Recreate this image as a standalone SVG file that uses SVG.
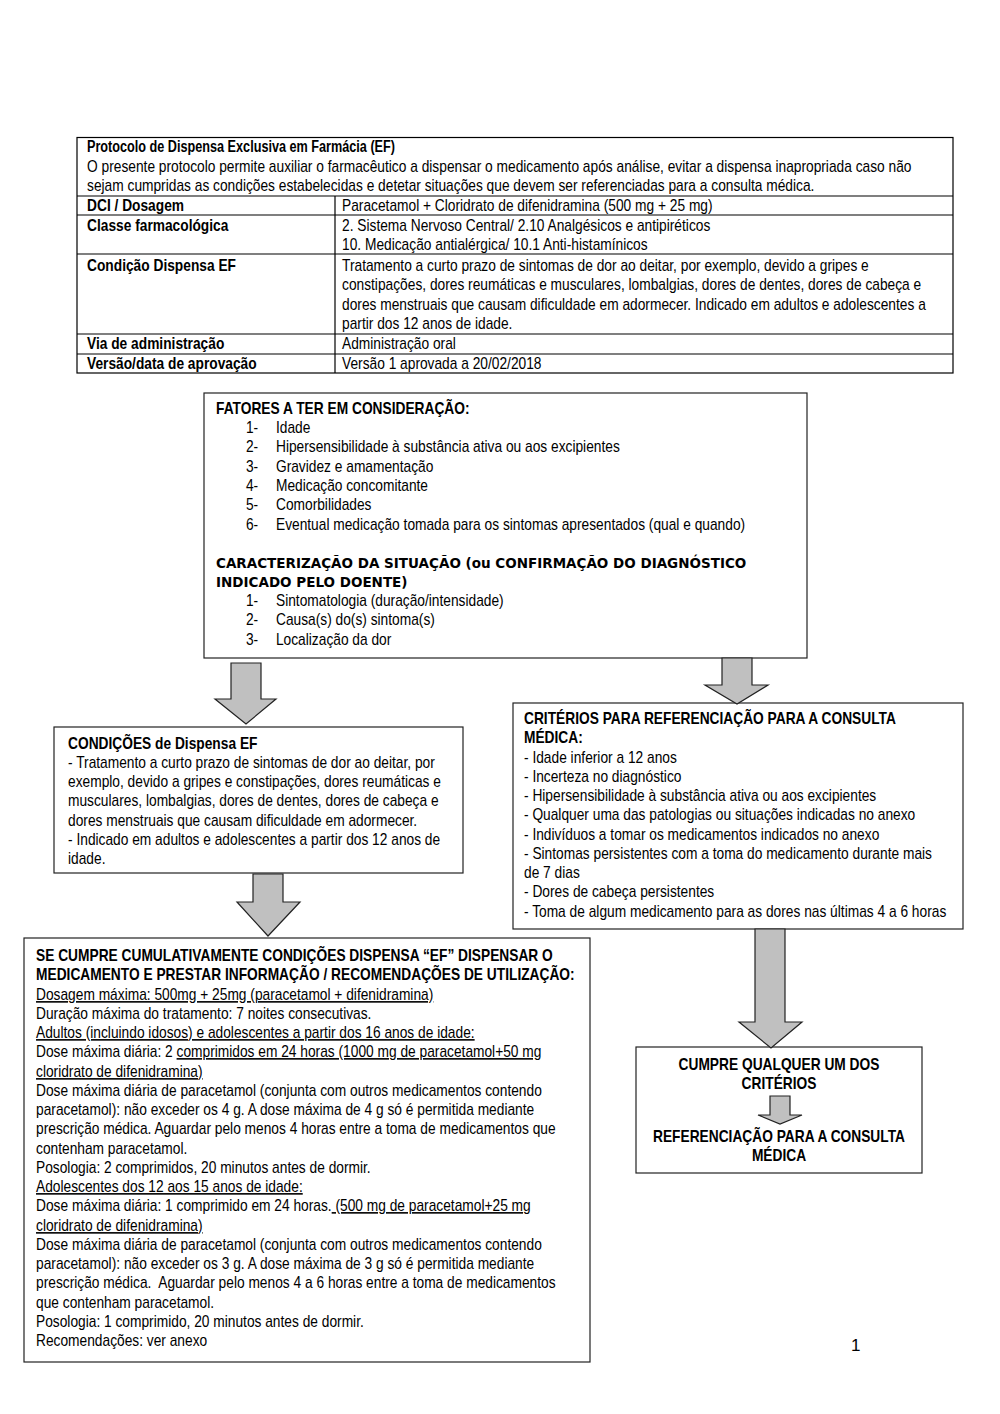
<svg xmlns="http://www.w3.org/2000/svg" width="1000" height="1414" viewBox="0 0 1000 1414">
<style>
text{font-family:"Liberation Sans",Arial,sans-serif;font-size:16px;fill:#000}
.b{font-weight:bold}
.u{text-decoration:underline}
.g{font-family:"DejaVu Sans",sans-serif;font-weight:bold;font-size:13.5px}
.box{fill:#fff;stroke:#222;stroke-width:1.2}
.tl{stroke:#000;stroke-width:1.2;fill:none}
.arr{fill:#c0c0c0;stroke:#222;stroke-width:1.2;stroke-linejoin:miter}
.c{text-anchor:middle}
</style>
<rect width="1000" height="1414" fill="#fff"/>
<g id="table">
<rect class="tl" x="77" y="137.5" width="876" height="235.5"/>
<line class="tl" x1="77" y1="196" x2="953" y2="196"/>
<line class="tl" x1="77" y1="215" x2="953" y2="215"/>
<line class="tl" x1="77" y1="254" x2="953" y2="254"/>
<line class="tl" x1="77" y1="334" x2="953" y2="334"/>
<line class="tl" x1="77" y1="354" x2="953" y2="354"/>
<line class="tl" x1="335" y1="196" x2="335" y2="373"/>
<text class="b" x="87" y="152" textLength="308" lengthAdjust="spacingAndGlyphs">Protocolo de Dispensa Exclusiva em Farmácia (EF)</text>
<g transform="scale(0.86,1)">
<text x="101.2" y="172">O presente protocolo permite auxiliar o farmacêutico a dispensar o medicamento após análise, evitar a dispensa inapropriada caso não</text>
<text x="101.2" y="191">sejam cumpridas as condições estabelecidas e detetar situações que devem ser referenciadas para a consulta médica.</text>
<text class="b" x="101.2" y="211">DCI / Dosagem</text>
<text x="397.7" y="211">Paracetamol + Cloridrato de difenidramina (500 mg + 25 mg)</text>
<text class="b" x="101.2" y="231">Classe farmacológica</text>
<text x="397.7" y="231">2. Sistema Nervoso Central/ 2.10 Analgésicos e antipiréticos</text>
<text x="397.7" y="250">10. Medicação antialérgica/ 10.1 Anti-histamínicos</text>
<text class="b" x="101.2" y="271">Condição Dispensa EF</text>
<text x="397.7" y="271">Tratamento a curto prazo de sintomas de dor ao deitar, por exemplo, devido a gripes e</text>
<text x="397.7" y="290">constipações, dores reumáticas e musculares, lombalgias, dores de dentes, dores de cabeça e</text>
<text x="397.7" y="310">dores menstruais que causam dificuldade em adormecer. Indicado em adultos e adolescentes a</text>
<text x="397.7" y="329">partir dos 12 anos de idade.</text>
<text class="b" x="101.2" y="349">Via de administração</text>
<text x="397.7" y="349">Administração oral</text>
<text class="b" x="101.2" y="369">Versão/data de aprovação</text>
<text x="397.7" y="369">Versão 1 aprovada a 20/02/2018</text>
</g>
</g>
<g id="fatores">
<rect class="box" x="204" y="393" width="603" height="265"/>
<g transform="scale(0.86,1)">
<text class="b" x="251.2" y="414">FATORES A TER EM CONSIDERAÇÃO:</text>
<text x="286" y="433">1-</text><text x="320.9" y="433">Idade</text>
<text x="286" y="452">2-</text><text x="320.9" y="452">Hipersensibilidade à substância ativa ou aos excipientes</text>
<text x="286" y="472">3-</text><text x="320.9" y="472">Gravidez e amamentação</text>
<text x="286" y="491">4-</text><text x="320.9" y="491">Medicação concomitante</text>
<text x="286" y="510">5-</text><text x="320.9" y="510">Comorbilidades</text>
<text x="286" y="530">6-</text><text x="320.9" y="530">Eventual medicação tomada para os sintomas apresentados (qual e quando)</text>
<text x="286" y="606">1-</text><text x="320.9" y="606">Sintomatologia (duração/intensidade)</text>
<text x="286" y="625">2-</text><text x="320.9" y="625">Causa(s) do(s) sintoma(s)</text>
<text x="286" y="645">3-</text><text x="320.9" y="645">Localização da dor</text>
</g>
<text class="g" x="216" y="568">CARACTERIZAÇÃO DA SITUAÇÃO (ou CONFIRMAÇÃO DO DIAGNÓSTICO</text>
<text class="g" x="216" y="587">INDICADO PELO DOENTE)</text>
</g>
<g id="condicoes">
<rect class="box" x="54" y="727" width="409" height="146"/>
<g transform="scale(0.86,1)">
<text class="b" x="79.1" y="749">CONDIÇÕES de Dispensa EF</text>
<text x="79.1" y="768">- Tratamento a curto prazo de sintomas de dor ao deitar, por</text>
<text x="79.1" y="787">exemplo, devido a gripes e constipações, dores reumáticas e</text>
<text x="79.1" y="806">musculares, lombalgias, dores de dentes, dores de cabeça e</text>
<text x="79.1" y="826">dores menstruais que causam dificuldade em adormecer.</text>
<text x="79.1" y="845">- Indicado em adultos e adolescentes a partir dos 12 anos de</text>
<text x="79.1" y="864">idade.</text>
</g>
</g>
<g id="criterios">
<rect class="box" x="513" y="703" width="450" height="226"/>
<g transform="scale(0.86,1)">
<text class="b" x="609.3" y="724">CRITÉRIOS PARA REFERENCIAÇÃO PARA A CONSULTA</text>
<text class="b" x="609.3" y="743">MÉDICA:</text>
<text x="609.3" y="763">- Idade inferior a 12 anos</text>
<text x="609.3" y="782">- Incerteza no diagnóstico</text>
<text x="609.3" y="801">- Hipersensibilidade à substância ativa ou aos excipientes</text>
<text x="609.3" y="820">- Qualquer uma das patologias ou situações indicadas no anexo</text>
<text x="609.3" y="840">- Indivíduos a tomar os medicamentos indicados no anexo</text>
<text x="609.3" y="859">- Sintomas persistentes com a toma do medicamento durante mais</text>
<text x="609.3" y="878">de 7 dias</text>
<text x="609.3" y="897">- Dores de cabeça persistentes</text>
<text x="609.3" y="917">- Toma de algum medicamento para as dores nas últimas 4 a 6 horas</text>
</g>
</g>
<g id="dispensar">
<rect class="box" x="24" y="938" width="566" height="424"/>
<g transform="scale(0.86,1)">
<text class="b" x="41.9" y="961">SE CUMPRE CUMULATIVAMENTE CONDIÇÕES DISPENSA “EF” DISPENSAR O</text>
<text class="b" x="41.9" y="980">MEDICAMENTO E PRESTAR INFORMAÇÃO / RECOMENDAÇÕES DE UTILIZAÇÃO:</text>
<text class="u" x="41.9" y="1000">Dosagem máxima: 500mg + 25mg (paracetamol + difenidramina)</text>
<text x="41.9" y="1019">Duração máxima do tratamento: 7 noites consecutivas.</text>
<text class="u" x="41.9" y="1038">Adultos (incluindo idosos) e adolescentes a partir dos 16 anos de idade:</text>
<text x="41.9" y="1057">Dose máxima diária: 2 <tspan class="u">comprimidos em 24 horas (1000 mg de paracetamol+50 mg</tspan></text>
<text class="u" x="41.9" y="1077">cloridrato de difenidramina)</text>
<text x="41.9" y="1096">Dose máxima diária de paracetamol (conjunta com outros medicamentos contendo</text>
<text x="41.9" y="1115">paracetamol): não exceder os 4 g. A dose máxima de 4 g só é permitida mediante</text>
<text x="41.9" y="1134">prescrição médica. Aguardar pelo menos 4 horas entre a toma de medicamentos que</text>
<text x="41.9" y="1154">contenham paracetamol.</text>
<text x="41.9" y="1173">Posologia: 2 comprimidos, 20 minutos antes de dormir.</text>
<text class="u" x="41.9" y="1192">Adolescentes dos 12 aos 15 anos de idade:</text>
<text x="41.9" y="1211">Dose máxima diária: 1 comprimido em 24 horas.<tspan class="u"> (500 mg de paracetamol+25 mg</tspan></text>
<text class="u" x="41.9" y="1231">cloridrato de difenidramina)</text>
<text x="41.9" y="1250">Dose máxima diária de paracetamol (conjunta com outros medicamentos contendo</text>
<text x="41.9" y="1269">paracetamol): não exceder os 3 g. A dose máxima de 3 g só é permitida mediante</text>
<text x="41.9" y="1288" xml:space="preserve">prescrição médica.  Aguardar pelo menos 4 a 6 horas entre a toma de medicamentos</text>
<text x="41.9" y="1308">que contenham paracetamol.</text>
<text x="41.9" y="1327">Posologia: 1 comprimido, 20 minutos antes de dormir.</text>
<text x="41.9" y="1346">Recomendações: ver anexo</text>
</g>
</g>
<g id="referenciacao">
<rect class="box" x="636" y="1047" width="286" height="126"/>
<g transform="scale(0.86,1)">
<text class="b c" x="905.8" y="1070">CUMPRE QUALQUER UM DOS</text>
<text class="b c" x="905.8" y="1089">CRITÉRIOS</text>
<text class="b c" x="905.8" y="1142">REFERENCIAÇÃO PARA A CONSULTA</text>
<text class="b c" x="905.8" y="1161">MÉDICA</text>
</g>
</g>
<g id="connectors">
<path class="arr" d="M231,663 H261 V699 H276 L246,724 L215,699 H231 Z"/>
<path class="arr" d="M722,658 H752 V685 H768 L737,704 L705,685 H722 Z"/>
<path class="arr" d="M253,874 H283 V902 H300 L268,936 L237,902 H253 Z"/>
<path class="arr" d="M755,929 H785 V1022 H802 L771,1048 L739,1022 H755 Z"/>
<path class="arr" d="M770,1096 H790 V1115 H802 L780,1124 L758,1115 H770 Z"/>
</g>
<text x="851" y="1351" style="font-size:17px">1</text>
</svg>
